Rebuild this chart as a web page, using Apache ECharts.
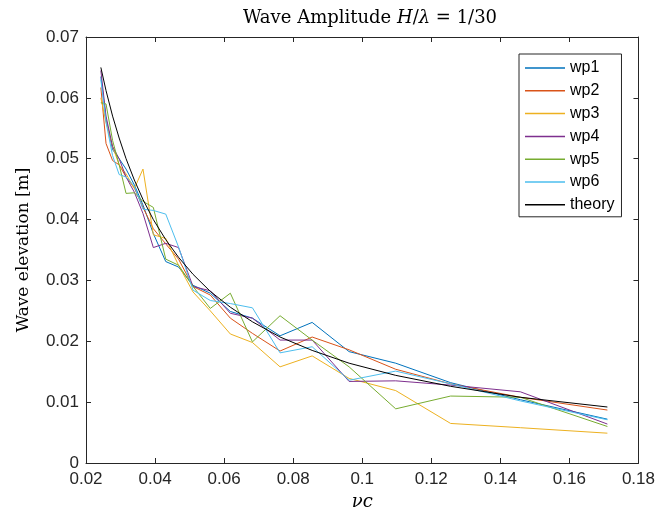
<!DOCTYPE html>
<html>
<head>
<meta charset="utf-8">
<script src="https://cdn.jsdelivr.net/npm/echarts@6/dist/echarts.min.js"></script>
<style>html,body{margin:0;padding:0;background:#fff}#c{width:658px;height:516px}</style>
</head>
<body>
<div id="c"></div>
<script>
var nuc = [0.0243, 0.0258, 0.0277, 0.0296, 0.0316, 0.034, 0.0365, 0.0395, 0.0431, 0.0468, 0.051, 0.056, 0.0618, 0.0682, 0.0762, 0.0855, 0.0962, 0.1097, 0.1256, 0.1458, 0.171];
var wp1 = [0.0635, 0.0565, 0.0515, 0.0500, 0.0483, 0.0457, 0.0424, 0.0377, 0.0331, 0.0322, 0.0292, 0.0279, 0.0249, 0.0238, 0.0209, 0.0231, 0.0183, 0.0164, 0.0132, 0.0104, 0.0072];
var wp2 = [0.0617, 0.0525, 0.0497, 0.0490, 0.0470, 0.0452, 0.0420, 0.0385, 0.0360, 0.0335, 0.0290, 0.0276, 0.0238, 0.0213, 0.0184, 0.0207, 0.0186, 0.0154, 0.0130, 0.0108, 0.0087];
var wp3 = [0.0600, 0.0560, 0.0520, 0.0490, 0.0475, 0.0451, 0.0483, 0.0375, 0.0369, 0.0325, 0.0281, 0.0250, 0.0212, 0.0198, 0.0158, 0.0176, 0.0139, 0.0119, 0.0065, 0.0058, 0.0049];
var wp4 = [0.0645, 0.0570, 0.0520, 0.0500, 0.0470, 0.0445, 0.0410, 0.0354, 0.0361, 0.0354, 0.0290, 0.0283, 0.0246, 0.0238, 0.0202, 0.0202, 0.0134, 0.0135, 0.0128, 0.0117, 0.0064];
var wp5 = [0.0592, 0.0590, 0.0530, 0.0490, 0.0443, 0.0444, 0.0430, 0.0420, 0.0335, 0.0325, 0.0290, 0.0254, 0.0279, 0.0199, 0.0242, 0.0202, 0.0158, 0.0089, 0.0110, 0.0108, 0.0060];
var wp6 = [0.0630, 0.0560, 0.0505, 0.0474, 0.0470, 0.0455, 0.0417, 0.0415, 0.0409, 0.0355, 0.0284, 0.0267, 0.0262, 0.0255, 0.0181, 0.0191, 0.0136, 0.0151, 0.0130, 0.0102, 0.0071];
var theory = [0.0650, 0.0612, 0.0570, 0.0534, 0.0500, 0.0465, 0.0433, 0.0400, 0.0367, 0.0338, 0.0310, 0.0282, 0.0256, 0.0232, 0.0207, 0.0185, 0.0164, 0.0144, 0.0126, 0.0108, 0.0092];
var names = ['wp1', 'wp2', 'wp3', 'wp4', 'wp5', 'wp6', 'theory'];
var colors = ['#0072BD', '#D95319', '#EDB120', '#7E2F8E', '#77AC30', '#4DBEEE', '#000000'];
var values = [wp1, wp2, wp3, wp4, wp5, wp6, theory];

function pairs(ys) { return nuc.map(function (x, i) { return [x, ys[i]]; }); }
var axisCol = '#262626';
var serif = 'DejaVu Serif, Liberation Serif, serif';
var tickFont = { color: axisCol, fontSize: 17, fontFamily: 'Liberation Sans, Arial, sans-serif' };
function fmt(v) { return String(+v.toFixed(4)); }

var chart = echarts.init(document.getElementById('c'), null, { renderer: 'canvas' });
chart.setOption({
  animation: false,
  backgroundColor: '#fff',
  title: {
    text: '{a|Wave Amplitude }{b|H}{a|/}{b|λ}{a| = 1/30}',
    left: 365, top: 4, textAlign: 'center',
    textStyle: { fontWeight: 'normal', rich: {
      a: { fontFamily: serif, fontSize: 18, fontWeight: 'normal', color: '#000' },
      b: { fontFamily: serif, fontSize: 18, fontWeight: 'normal', fontStyle: 'italic', color: '#000' }
    } }
  },
  grid: { left: 86, right: 18, top: 37, bottom: 53, containLabel: false },
  legend: {
    orient: 'vertical', left: 519, top: 54,
    data: names, icon: 'rect', itemWidth: 40, itemHeight: 1.5, itemGap: 6.8,
    padding: [6, 7, 4, 6],
    borderColor: '#262626', borderWidth: 1, backgroundColor: '#fff',
    textStyle: { fontSize: 16, fontFamily: 'Liberation Sans, Arial, sans-serif', color: '#000', padding: [0, 0, 0, 0] }
  },
  xAxis: [{
    type: 'value', min: 0.02, max: 0.18, interval: 0.02,
    name: 'νc', nameLocation: 'middle', nameGap: 28,
    nameTextStyle: { fontFamily: serif, fontStyle: 'italic', fontSize: 18, color: '#000' },
    axisLine: { show: true, onZero: false, lineStyle: { color: axisCol, width: 1 } },
    axisTick: { show: true, inside: true, length: 5, lineStyle: { color: axisCol } },
    axisLabel: Object.assign({ formatter: fmt, margin: 8 }, tickFont),
    splitLine: { show: false }
  }, {
    type: 'value', position: 'top', min: 0.02, max: 0.18, interval: 0.02,
    axisLine: { show: true, onZero: false, lineStyle: { color: axisCol, width: 1 } },
    axisTick: { show: true, inside: true, length: 5, lineStyle: { color: axisCol } },
    axisLabel: { show: false }, splitLine: { show: false }
  }],
  yAxis: [{
    type: 'value', min: 0, max: 0.07, interval: 0.01,
    name: 'Wave elevation [m]', nameLocation: 'middle', nameGap: 54, nameRotate: 90,
    nameTextStyle: { fontFamily: serif, fontSize: 17, color: '#000' },
    axisLine: { show: true, onZero: false, lineStyle: { color: axisCol, width: 1 } },
    axisTick: { show: true, inside: true, length: 5, lineStyle: { color: axisCol } },
    axisLabel: Object.assign({ formatter: fmt, margin: 7 }, tickFont),
    splitLine: { show: false }
  }, {
    type: 'value', position: 'right', min: 0, max: 0.07, interval: 0.01,
    axisLine: { show: true, onZero: false, lineStyle: { color: axisCol, width: 1 } },
    axisTick: { show: true, inside: true, length: 5, lineStyle: { color: axisCol } },
    axisLabel: { show: false }, splitLine: { show: false }
  }],
  series: names.map(function (n, i) {
    return {
      name: n, type: 'line', xAxisIndex: 0, yAxisIndex: 0,
      data: pairs(values[i]), showSymbol: false, symbol: 'none',
      color: colors[i],
      lineStyle: { color: colors[i], width: 1 },
      z: i === 6 ? 10 : 2
    };
  })
});
</script>
</body>
</html>
